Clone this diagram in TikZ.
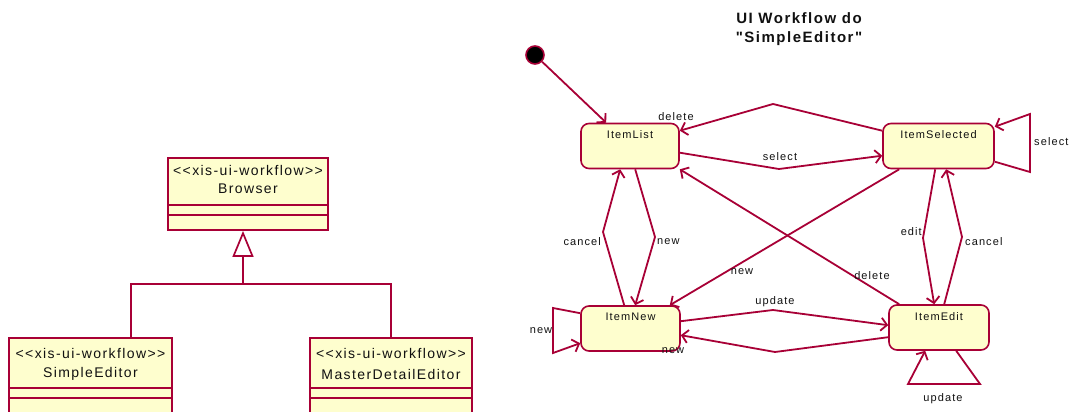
\documentclass[tikz,border=0pt]{standalone}
\usepackage{fontspec}
\setmainfont{Liberation Sans}[LetterSpace=10, Ligatures=TeXOff]
\usetikzlibrary{arrows.meta,calc}
\definecolor{umlborder}{HTML}{A80036}
\definecolor{umlfill}{HTML}{FEFECE}
\definecolor{umltext}{HTML}{111111}

\tikzset{
  classbox/.style={draw=umlborder, fill=umlfill, line width=1.9pt, rectangle, inner sep=0pt},
  divider/.style={draw=umlborder, line width=1.7pt},
  classtext/.style={font=\fontsize{14}{16}\selectfont, text=umltext, inner sep=0pt},
  state/.style={draw=umlborder, fill=umlfill, line width=1.6pt, rounded corners=8pt,
    rectangle, inner sep=0pt, minimum height=45pt},
  statename/.style={font=\fontsize{11}{12}\selectfont, text=umltext, inner sep=0pt, anchor=north},
  lbl/.style={font=\fontsize{11}{12}\selectfont, text=umltext, inner sep=0pt},
  flow/.style={draw=umlborder, line width=1.8pt, line join=miter,
    -{Straight Barb[length=6pt,width=13pt,line width=1.8pt]}},
  link/.style={draw=umlborder, line width=1.7pt},
  initial/.style={circle, draw=umlborder, fill=black, line width=1.6pt, minimum size=18pt, inner sep=0pt},
}

\begin{document}
\begin{tikzpicture}[x=1pt,y=-1pt]
\clip (0,0) rectangle (1069,412);
\fill[white] (0,0) rectangle (1069,412);

% ---------- class diagram ----------
\node[classbox, minimum width=160pt, minimum height=72pt, anchor=north west] (browser) at (167,157) {};
\draw[divider] ($(browser.north west)+(0,48)$) -- ($(browser.north east)+(0,48)$);
\draw[divider] ($(browser.north west)+(0,58)$) -- ($(browser.north east)+(0,58)$);
\node[classtext] (browserst) at ($(browser.north)+(0,13)$) {<<xis-ui-workflow>>};
\node[classtext] (browsernm) at ($(browser.north)+(0,32)$) {Browser};

\node[classbox, minimum width=163pt, minimum height=90pt, anchor=north west] (simple) at (8,337) {};
\draw[divider] ($(simple.north west)+(0,51)$) -- ($(simple.north east)+(0,51)$);
\draw[divider] ($(simple.north west)+(0,61)$) -- ($(simple.north east)+(0,61)$);
\node[classtext] (simplest) at ($(simple.north)+(0,16)$) {<<xis-ui-workflow>>};
\node[classtext] (simplenm) at ($(simple.north)+(0,37)$) {SimpleEditor};

\node[classbox, minimum width=162pt, minimum height=90pt, anchor=north west] (master) at (309,337) {};
\draw[divider] ($(master.north west)+(0,51)$) -- ($(master.north east)+(0,51)$);
\draw[divider] ($(master.north west)+(0,61)$) -- ($(master.north east)+(0,61)$);
\node[classtext] (masterst) at ($(master.north)+(0,16)$) {<<xis-ui-workflow>>};
\node[classtext] (masternm) at ($(master.north)+(0,37)$) {MasterDetailEditor};

% generalization
\coordinate (junction) at (243,284);
\draw[link] ($(simple.north west)+(123,0)$) |- (junction);
\draw[link] ($(master.north west)+(82,0)$) |- (junction);
\draw[link, -{Triangle[open, length=26pt, width=21pt, line width=1.7pt]}] (junction) -- (browser.south -| junction);

% ---------- state diagram ----------
\node[font=\bfseries\fontsize{15}{19}\selectfont, text=umltext, align=center, inner sep=0pt] (title)
  at (799,29) {UI Workflow do\\"SimpleEditor"};

\node[initial] (init) at (535,55) {};

\node[state, minimum width=98pt]  (itemlist) at (630,146) {};
\node[state, minimum width=111pt] (itemsel)  at (938.5,146) {};
\node[state, minimum width=99pt]  (itemnew)  at (630.5,328.5) {};
\node[state, minimum width=100pt] (itemedit) at (939,327.5) {};

\node[statename] (itemlistnm) at ($(itemlist.north)+(0,8)$) {ItemList};
\node[statename] (itemselnm)  at ($(itemsel.north)+(0,8)$) {ItemSelected};
\node[statename] (itemnewnm)  at ($(itemnew.north)+(0,8)$) {ItemNew};
\node[statename] (itemeditnm) at ($(itemedit.north)+(0,8)$) {ItemEdit};

% initial transition
\draw[flow] (init) -- ($(itemlist.north west)+(26,0)$);

% ItemSelected -> ItemList (delete)
\draw[flow] ($(itemsel.north west)+(0,8)$) -- (773,104) -- ($(itemlist.north east)+(0,8)$);
\node[lbl] (ldel1) at (676,117) {delete};

% ItemList -> ItemSelected (select)
\draw[flow] ($(itemlist.north east)+(0,30)$) -- (779,169) -- ($(itemsel.north west)+(0,33)$);
\node[lbl] (lsel1) at (780,157) {select};

% ItemSelected self loop (select)
\draw[flow] ($(itemsel.north east)+(0,39)$) -- (1030,172) -- (1030,114) -- ($(itemsel.north east)+(0,4)$);
\node[lbl, anchor=west] (lsel2) at (1034,142) {select};

% ItemNew -> ItemList (cancel)
\draw[flow] ($(itemnew.north west)+(44,0)$) -- (603,232) -- ($(itemlist.south west)+(40,0)$);
\node[lbl, anchor=east] (lcan1) at (601,242) {cancel};

% ItemList -> ItemNew (new)
\draw[flow] ($(itemlist.south west)+(55,0)$) -- (655,237) -- ($(itemnew.north west)+(55,0)$);
\node[lbl, anchor=west] (lnew1) at (657,242) {new};

% ItemSelected -> ItemNew (new)
\draw[flow] ($(itemsel.south west)+(17,0)$) -- ($(itemnew.north east)+(-11,0)$);
\node[lbl] (lnew2) at (742,272) {new};

% ItemEdit -> ItemList (delete)
\draw[flow] ($(itemedit.north west)+(11,0)$) -- ($(itemlist.south east)+(0,0)$);
\node[lbl] (ldel2) at (872,276) {delete};

% ItemSelected -> ItemEdit (edit)
\draw[flow] ($(itemsel.south west)+(53,0)$) -- (923,238) -- ($(itemedit.north west)+(46,0)$);
\node[lbl, anchor=east] (ledit) at (922,232) {edit};

% ItemEdit -> ItemSelected (cancel)
\draw[flow] ($(itemedit.north west)+(56,0)$) -- (962,237) -- ($(itemsel.south west)+(64,0)$);
\node[lbl, anchor=west] (lcan2) at (965,242) {cancel};

% ItemNew -> ItemEdit (update)
\draw[flow] ($(itemnew.north east)+(0,16)$) -- (773,310) -- ($(itemedit.north west)+(0,21)$);
\node[lbl] (lupd1) at (775,302) {update};

% ItemEdit -> ItemNew (new)
\draw[flow] ($(itemedit.north west)+(0,33)$) -- (775,352) -- ($(itemnew.north east)+(0,30)$);
\node[lbl] (lnew3) at (673,351) {new};

% ItemNew self loop (new)
\draw[flow] ($(itemnew.north west)+(0,8)$) -- (553,308) -- (553,353) -- ($(itemnew.north west)+(0,38)$);
\node[lbl] (lnew4) at (541,331) {new};

% ItemEdit self loop (update)
\draw[flow] ($(itemedit.south west)+(68,0)$) -- (980,384) -- (908,384) -- ($(itemedit.south west)+(37,0)$);
\node[lbl] (lupd2) at (943,399) {update};
\end{tikzpicture}
\end{document}
